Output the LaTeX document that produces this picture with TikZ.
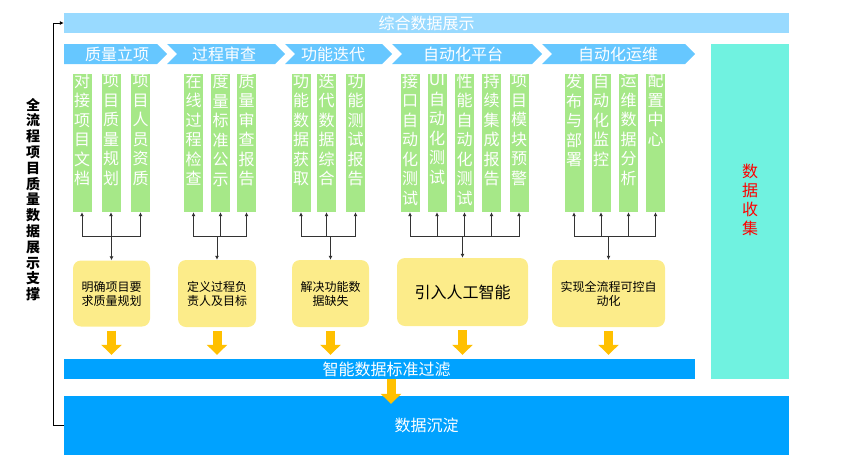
\documentclass[tikz,border=0pt]{standalone}
\usepackage{fontspec}
\setmainfont{Noto Sans CJK SC}
\usetikzlibrary{arrows.meta}

\definecolor{barblue}{RGB}{153,218,255}
\definecolor{chevblue}{RGB}{102,199,255}
\definecolor{colgreen}{RGB}{166,232,136}
\definecolor{goalyellow}{RGB}{252,236,138}
\definecolor{deepblue}{RGB}{0,162,255}
\definecolor{collectcyan}{RGB}{112,242,224}
\definecolor{fatorange}{RGB}{255,192,0}

\newcommand\fsz[2]{\fontsize{#1}{#2}\selectfont}

\tikzset{
  band/.style={fill=#1, inner sep=0pt, text=white, font=\fsz{16}{19}},
  col/.style={fill=colgreen, minimum width=19pt, minimum height=138pt, inner sep=0pt},
  coltxt/.style={anchor=north, align=center, inner sep=0pt, text=white, font=\fsz{16}{19.5}},
  goal/.style={fill=goalyellow, rounded corners=8pt, inner sep=0pt, align=center, font=\fsz{12}{14}},
  link/.style={draw=black!80, line width=1pt, -{Latex[length=4pt,width=4pt]}},
  fat/.style={draw=fatorange, line width=9pt, -{Triangle[length=10pt,width=20pt]}, shorten <=4pt, shorten >=4pt},
}

\begin{document}
\begin{tikzpicture}[x=1pt,y=-1pt]
	\useasboundingbox (0,0) rectangle (845,466);
	% top and bottom bands
	\node[band=barblue, minimum width=725pt, minimum height=20pt] (top) at (426.5,23) {综合数据展示};
	\node[band=deepblue, minimum width=631pt, minimum height=20pt] (filter) at (379.5,369) {\hspace*{14pt}智能数据标准过滤};
	\node[band=deepblue, minimum width=725pt, minimum height=59pt] (deposit) at (426.5,425.5) {数据沉淀};
	\node[fill=collectcyan, minimum width=78pt, minimum height=335pt, inner sep=0pt] (collect) at (750,211.5) {};
	\node[text=red, align=center, inner sep=0pt, font=\fsz{16}{19}] (collecttxt) at (750,200) {数\\据\\收\\集};
	% stage chevrons
	\fill[chevblue] (64,44) -- (157,44) -- (167,54) -- (157,64) -- (64,64) -- cycle;
	\foreach \a/\b in {167/275, 285/382, 392/532, 542/685}
		\fill[chevblue] (\a,44) -- (\b,44) -- ++(10,10) -- ++(-10,10) -- (\a,64) -- ++(10,-10) -- cycle;
	\node[band=chevblue, fill=none] (s1) at (117,54) {质量立项};
	\node[band=chevblue, fill=none] (s2) at (224,54) {过程审查};
	\node[band=chevblue, fill=none] (s3) at (333,54) {功能迭代};
	\node[band=chevblue, fill=none] (s4) at (463,54) {自动化平台};
	\node[band=chevblue, fill=none] (s5) at (618,54) {自动化运维};
	% green columns
	\foreach \nm/\x/\txt in {
		c11/82/{对\\接\\项\\目\\文\\档}, c12/111/{项\\目\\质\\量\\规\\划}, c13/140.5/{项\\目\\人\\员\\资\\质},
		c21/193.5/{在\\线\\过\\程\\检\\查}, c22/220.5/{度\\量\\标\\准\\公\\示}, c23/246.5/{质\\量\\审\\查\\报\\告},
		c31/301/{功\\能\\数\\据\\获\\取}, c32/326.5/{迭\\代\\数\\据\\综\\合}, c33/355.5/{功\\能\\测\\试\\报\\告},
		c41/410/{接\\口\\自\\动\\化\\测\\试}, c42/437/{UI\\自\\动\\化\\测\\试}, c43/464.5/{性\\能\\自\\动\\化\\测\\试},
		c44/491.5/{持\\续\\集\\成\\报\\告}, c45/519/{项\\目\\模\\块\\预\\警},
		c51/574/{发\\布\\与\\部\\署}, c52/601/{自\\动\\化\\监\\控}, c53/628.5/{运\\维\\数\\据\\分\\析}, c54/655.5/{配\\置\\中\\心}}
	{
		\node[col] (\nm) at (\x,143) {};
		\node[coltxt] at (\nm.north) {\txt};
	}
	% goals
	\node[goal, minimum width=77pt, minimum height=66pt] (b1) at (111.5,293.5) {明确项目要\\求质量规划};
	\node[goal, minimum width=78pt, minimum height=67pt] (b2) at (217,293.5) {定义过程负\\责人及目标};
	\node[goal, minimum width=77pt, minimum height=67pt] (b3) at (330.5,293.5) {解决功能数\\据缺失};
	\node[goal, minimum width=131pt, minimum height=68pt, font=\fsz{16}{19}] (b4) at (462.5,292) {引入人工智能};
	\node[goal, minimum width=113pt, minimum height=67pt] (b5) at (608.5,293.5) {实现全流程可控自\\动化};
	% connectors
	\foreach \g/\cs in {1/{1,2,3}, 2/{1,2,3}, 3/{1,2,3}, 4/{1,2,3,4,5}, 5/{1,2,3,4}}
	{
		\coordinate (j\g) at (b\g.north |- 0,236);
		\draw[link] (j\g) -- (b\g.north);
		\foreach \c in \cs
			\draw[link] (j\g) -| (c\g\c.south);
	}
	\foreach \g in {1,...,5}
		\draw[fat] (b\g.south) -- (b\g.south |- filter.north);
	\draw[fat, shorten <=0pt, shorten >=-8pt] ([xshift=11.5pt]filter.south) -- ([xshift=11.5pt]filter.south |- deposit.north);
	% side label
	\node[align=center, inner sep=0pt, font=\fsz{14}{15.8}\bfseries] (side) at (33,199.5) {全\\流\\程\\项\\目\\质\\量\\数\\据\\展\\示\\支\\撑};
	\draw[black, line width=1pt, -{Latex[length=4pt,width=4pt]}] (deposit.west) -- ++(-10,0) |- (top.west);
\end{tikzpicture}
\end{document}
